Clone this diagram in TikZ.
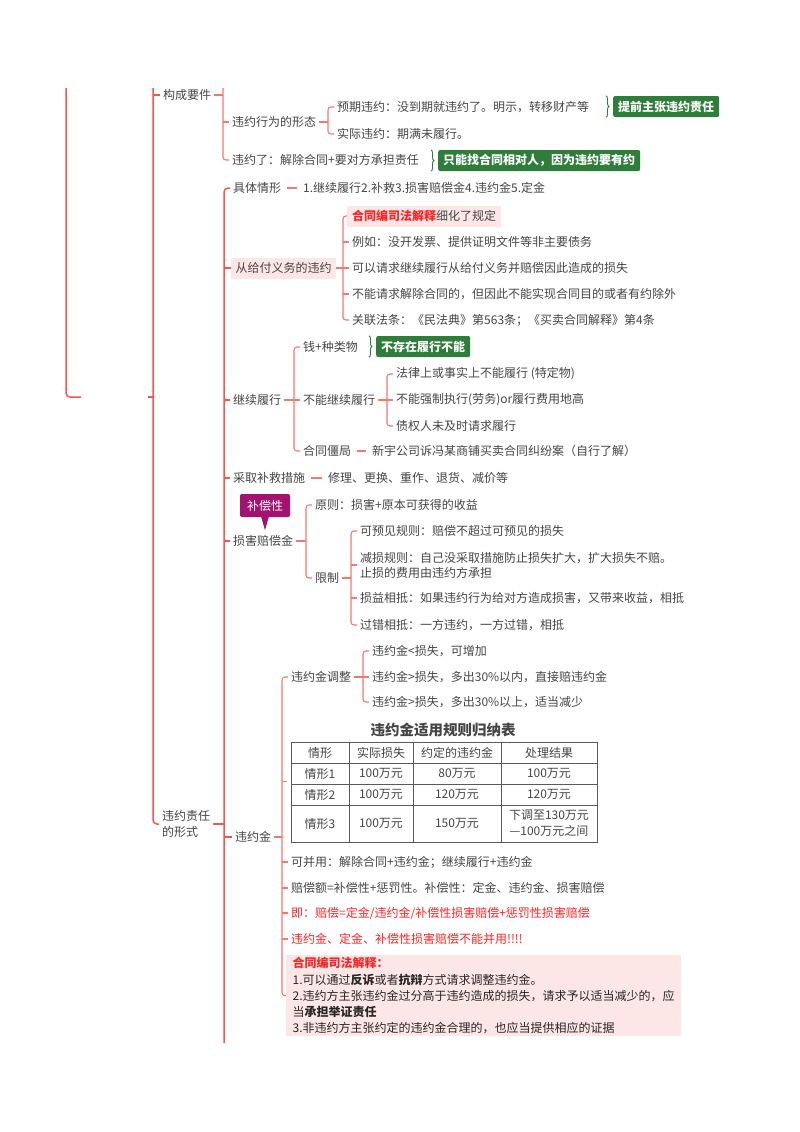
\documentclass[tikz,border=0pt]{standalone}
\usepackage{fontspec}
\setmainfont{Noto Sans CJK SC}
\usepackage{xcolor}
\usetikzlibrary{positioning,calc,fit,decorations.pathreplacing}
\definecolor{mapred}{HTML}{F2594E}
\definecolor{maplite}{HTML}{F3796F}
\definecolor{mapink}{HTML}{454545}
\definecolor{mapgreen}{HTML}{2E7D3A}
\definecolor{mapmag}{HTML}{A3126E}
\definecolor{mappink}{HTML}{FDE6E6}
\definecolor{mapalert}{HTML}{FF2424}
\definecolor{tabgrey}{HTML}{5A5A5A}
\newcommand\mapfont{\fontsize{12}{15}\selectfont}

\begin{document}
\begin{tikzpicture}[x=1pt,y=-1pt,
  topic/.style={font=\mapfont,text=mapink,anchor=west,inner xsep=3pt,inner ysep=2pt},
  pinktopic/.style={topic,fill=mappink,inner xsep=4.5pt,minimum height=21pt},
  tipbox/.style={font=\mapfont\bfseries,text=white,fill=mapgreen,rounded corners=2pt,anchor=west,inner xsep=5pt,inner ysep=0pt,minimum height=21pt},
  notebox/.style={font=\mapfont,text=white,fill=mapmag,rounded corners=2pt,minimum width=50pt,minimum height=23pt,inner sep=0pt},
  trunk/.style={draw=mapred,line width=1.5pt,rounded corners=4pt},
  link/.style={draw=maplite,line width=1.1pt,rounded corners=3pt},
  solo/.style={link,shorten <=3pt,shorten >=3pt},
  tipbrace/.style={draw=mapgreen,line width=0.9pt,decorate,decoration={brace,amplitude=3pt}},
  cell/.style={font=\mapfont,text=mapink,align=center,inner sep=0pt},
  tabline/.style={draw=tabgrey,line width=0.8pt}]
\useasboundingbox (0,0) rectangle (800,1132);
\fill[white] (0,0) rectangle (800,1132);
% cut-off parents
\coordinate (cutA) at (66,88);
\coordinate (hubA) at (81,397);
\coordinate (hubB) at (148,397);
\coordinate (cutB) at (153,88);
\draw[trunk] (cutA) |- (hubA);
\node[topic] (req) at (160,95) {构成要件};
\node[topic,align=left,font=\fontsize{12}{16}\selectfont] (forms) at (159,824) {违约责任\\的形式};
\draw[trunk] (cutB) |- (forms.west);
\draw[trunk] (hubB) -- (cutB |- hubB);
\draw[trunk] (cutB |- req.west) -- (req.west);
% 构成要件
\node[topic] (form) at (229,122) {违约行为的形态};
\node[topic] (brk) at (229,160) {违约了：解除合同+要对方承担责任};
\coordinate (reqbar) at ($(req.east -| form.west)+(-6,0)$);
\coordinate (cutC) at (reqbar |- cutA);
\draw[link] (cutC) |- (brk.west);
\draw[link] (req.east) -- (reqbar);
\draw[link] (reqbar |- form.west) -- (form.west);
\node[topic] (pre) at (334,107) {预期违约：没到期就违约了。明示，转移财产等};
\node[topic] (act) at (334,134) {实际违约：期满未履行。};
\coordinate (formbar) at ($(form.east -| pre.west)+(-6,0)$);
\draw[link] (pre.west) -| (formbar) |- (act.west);
\draw[link] (form.east) -- (formbar);
\node[tipbox] (tipA) at (613,106.5) {提前主张违约责任};
\draw[tipbrace] ($(tipA.north west)+(-7,0)$) -- ($(tipA.south west)+(-7,0)$);
\node[tipbox] (tipB) at (438,160.5) {只能找合同相对人，因为违约要有约};
\draw[tipbrace] ($(tipB.north west)+(-7,0)$) -- ($(tipB.south west)+(-7,0)$);
% 违约责任的形式
\coordinate (tailB) at (224,1043);
\node[topic] (sit) at (230,188) {具体情形};
\node[topic] (sitl) at (300,188) {1.继续履行2.补救3.损害赔偿金4.违约金5.定金};
\draw[solo] (sit.east) -- (sitl.west);
\node[pinktopic] (sub) at (231,268) {从给付义务的违约};
\node[topic] (cont) at (230,400) {继续履行};
\node[topic] (rem) at (230,478) {采取补救措施};
\node[topic] (reml) at (325,478) {修理、更换、重作、退货、减价等};
\draw[solo] (rem.east) -- (reml.west);
\node[topic] (dmg) at (230,541) {损害赔偿金};
\node[topic] (pen) at (232,837) {违约金};
\coordinate (formsbar) at ($(forms.east -| sit.west)+(-6,0)$);
\draw[trunk] (sit.west) -| (formsbar) -- (tailB);
\draw[trunk] (forms.east) -- (formsbar);
\foreach \c in {sub,cont,rem,dmg,pen} \draw[trunk] (formsbar |- \c.west) -- (\c.west);
% 从给付义务的违约
\node[pinktopic,inner xsep=5pt] (s1) at (347,216) {\textcolor{mapalert}{\bfseries 合同编司法解释}细化了规定};
\node[topic] (s2) at (349,242) {例如：没开发票、提供证明文件等非主要债务};
\node[topic] (s3) at (349,268) {可以请求继续履行从给付义务并赔偿因此造成的损失};
\node[topic] (s4) at (349,294) {不能请求解除合同的，但因此不能实现合同目的或者有约除外};
\node[topic] (s5) at (349,320) {关联法条：《民法典》第563条；《买卖合同解释》第4条};
\coordinate (subbar) at ($(sub.east -| s2.west)+(-6,0)$);
\draw[link] (s1.west) -| (subbar) |- (s5.west);
\draw[link] (sub.east) -- (subbar);
\foreach \i in {2,3,4} \draw[link] (subbar |- s\i.west) -- (s\i.west);
% 继续履行
\node[topic] (c1) at (300,347) {钱+种类物};
\node[tipbox] (tipC) at (376,346.5) {不存在履行不能};
\draw[tipbrace] ($(tipC.north west)+(-7,0)$) -- ($(tipC.south west)+(-7,0)$);
\node[topic] (c2) at (300,400) {不能继续履行};
\node[topic] (c3) at (300,451) {合同僵局};
\node[topic] (c3l) at (369,451) {新宇公司诉冯某商铺买卖合同纠纷案（自行了解）};
\draw[solo] (c3.east) -- (c3l.west);
\coordinate (contbar) at ($(cont.east -| c1.west)+(-6,0)$);
\draw[link] (c1.west) -| (contbar) |- (c3.west);
\draw[link] (cont.east) -- (c2.west);
\node[topic] (c21) at (393,374) {法律上或事实上不能履行 (特定物)};
\node[topic] (c22) at (393,400) {不能强制执行(劳务)or履行费用地高};
\node[topic] (c23) at (393,426) {债权人未及时请求履行};
\coordinate (c2bar) at ($(c2.east -| c21.west)+(-6,0)$);
\draw[link] (c21.west) -| (c2bar) |- (c23.west);
\draw[link] (c2.east) -- (c22.west);
% 损害赔偿金
\node[notebox] (note) at (265,505.5) {补偿性};
\fill[mapmag] ($(note.south)+(-4,-1)$) -- ($(note.south)+(4,-1)$) -- ($(note.south)+(0,13)$) -- cycle;
\node[topic] (d1) at (312,505) {原则：损害+原本可获得的收益};
\node[topic] (d2) at (312,578) {限制};
\coordinate (dmgbar) at ($(dmg.east -| d1.west)+(-6,0)$);
\draw[link] (d1.west) -| (dmgbar) |- (d2.west);
\draw[link] (dmg.east) -- (dmgbar);
\node[topic] (d21) at (357,531) {可预见规则：赔偿不超过可预见的损失};
\node[topic,align=left] (d22) at (357,565) {减损规则：自己没采取措施防止损失扩大，扩大损失不赔。\\止损的费用由违约方承担};
\node[topic] (d23) at (357,598) {损益相抵：如果违约行为给对方造成损害，又带来收益，相抵};
\node[topic] (d24) at (357,625) {过错相抵：一方违约，一方过错，相抵};
\coordinate (d2bar) at ($(d2.east -| d21.west)+(-6,0)$);
\draw[link] (d21.west) -| (d2bar) |- (d24.west);
\draw[link] (d2.east) -- (d2bar);
\foreach \c in {d22,d23} \draw[link] (d2bar |- \c.west) -- (\c.west);
% 违约金
\node[topic] (p1) at (288,677) {违约金调整};
\node[topic] (p11) at (369,651) {违约金<损失，可增加};
\node[topic] (p12) at (369,677) {违约金>损失，多出30\%以内，直接赔违约金};
\node[topic] (p13) at (369,702) {违约金>损失，多出30\%以上，适当减少};
\coordinate (p1bar) at ($(p1.east -| p11.west)+(-6,0)$);
\draw[link] (p11.west) -| (p1bar) |- (p13.west);
\draw[link] (p1.east) -- (p12.west);
\node[font=\fontsize{14.5}{17}\selectfont\bfseries,text=mapink,inner sep=1pt] (ptitle) at (443,730) {违约金适用规则归纳表};
\coordinate (tabNW) at (291,742);
\coordinate (tabSE) at (597,842);
\draw[tabline] (tabNW) rectangle (tabSE);
\foreach \x in {349,413,501} \draw[tabline] (\x,742) -- (\x,842);
\foreach \y in {763,784,805} \draw[tabline] (291,\y) -- (597,\y);
\foreach \cx/\txt [count=\k] in {320/情形,381/实际损失,457/约定的违约金,549/处理结果} \node[cell] (hd-\k) at (\cx,752.5) {\txt};
\foreach \cx/\txt [count=\k] in {320/情形1,381/100万元,457/80万元,549/100万元} \node[cell] (ra-\k) at (\cx,773.5) {\txt};
\foreach \cx/\txt [count=\k] in {320/情形2,381/100万元,457/120万元,549/120万元} \node[cell] (rb-\k) at (\cx,794.5) {\txt};
\foreach \cx/\txt [count=\k] in {320/情形3,381/100万元,457/150万元} \node[cell] (rc-\k) at (\cx,823.5) {\txt};
\node[cell,font=\fontsize{12}{16}\selectfont] (rc-4) at (549,823.5) {下调至130万元\\—100万元之间};
\node[fit=(ptitle)(tabNW)(tabSE),inner xsep=4pt,inner ysep=0pt] (pgroup) {};
\node[topic] (p3) at (288,862) {可并用：解除合同+违约金；继续履行+违约金};
\node[topic] (p4) at (288,888) {赔偿额=补偿性+惩罚性。补偿性：定金、违约金、损害赔偿};
\node[topic,text=mapalert] (p5) at (288,913) {即：赔偿=定金/违约金/补偿性损害赔偿+惩罚性损害赔偿};
\node[topic,text=mapalert] (p6) at (288,939) {违约金、定金、补偿性损害赔偿不能并用!!!!};
\node[anchor=north west,fill=mappink,font=\fontsize{12}{16.2}\selectfont,text=black!85,align=left,
  minimum width=395pt,minimum height=81pt,inner xsep=5pt,inner ysep=2pt] (pbox) at (286,955)
  {{\color{mapalert}\bfseries 合同编司法解释：}\\
   1.可以通过\textbf{反诉}或者\textbf{抗辩}方式请求调整违约金。\\
   2.违约方主张违约金过分高于违约造成的损失，请求予以适当减少的，应\\
   当\textbf{承担举证责任}\\
   3.非违约方主张约定的违约金合理的，也应当提供相应的证据};
\coordinate (penbar) at ($(pen.east -| p1.west)+(-6,0)$);
\draw[link] (p1.west) -| (penbar) |- (pbox.west);
\draw[link] (pen.east) -- (penbar);
\foreach \c in {pgroup,p3,p4,p5,p6} \draw[link] (penbar |- \c.west) -- (\c.west);
\end{tikzpicture}
\end{document}
